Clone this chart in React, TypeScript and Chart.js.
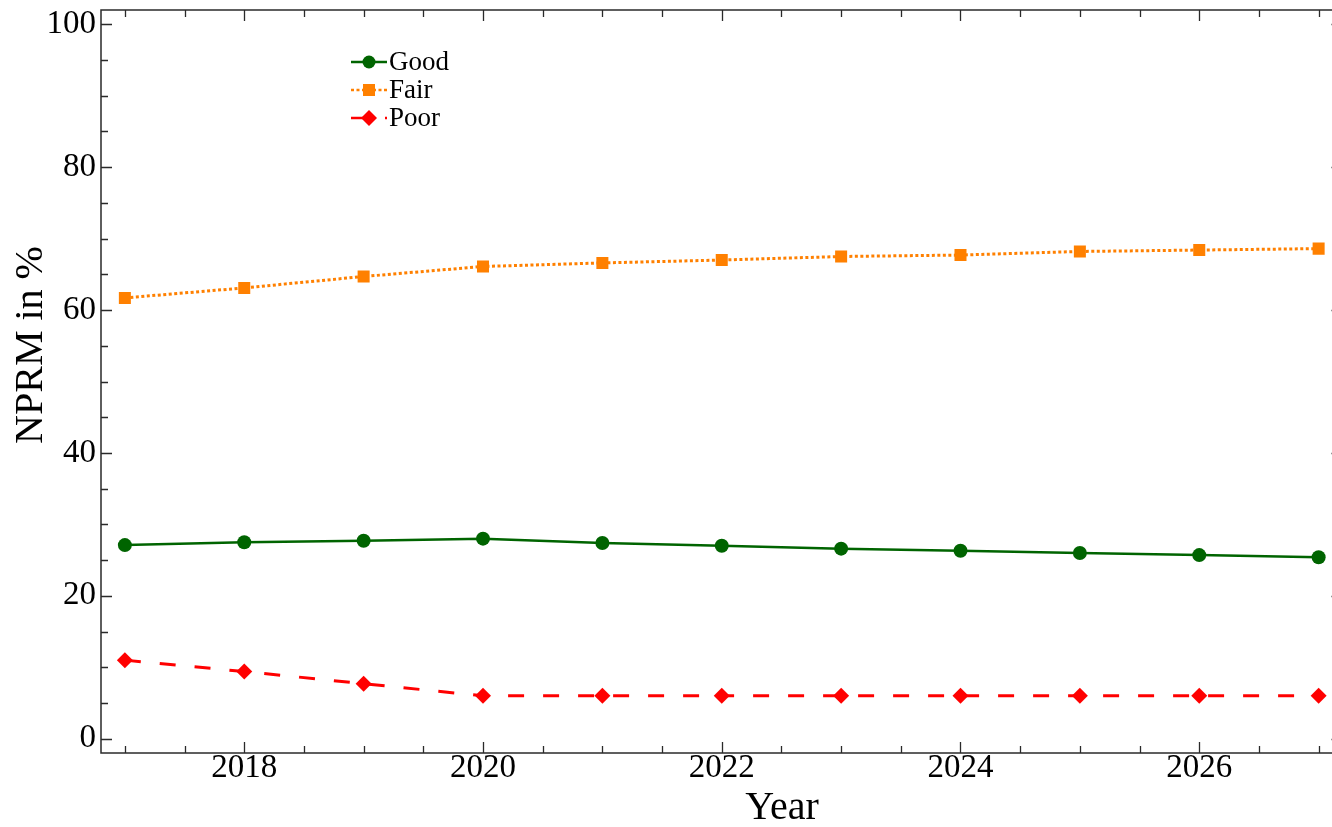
import React, { useEffect, useRef } from 'react';
import { Chart, registerables } from 'chart.js';

Chart.register(...registerables);

// ---- data ----
const years = [2017, 2018, 2019, 2020, 2021, 2022, 2023, 2024, 2025, 2026, 2027];
const goodValues = [27.1, 27.5, 27.7, 28.0, 27.4, 27.0, 26.6, 26.3, 26.0, 25.7, 25.4];
const fairValues = [61.7, 63.1, 64.7, 66.1, 66.6, 67.0, 67.5, 67.7, 68.2, 68.4, 68.6];
const poorValues = [11.0, 9.4, 7.7, 6.0, 6.0, 6.0, 6.0, 6.0, 6.0, 6.0, 6.0];
const seriesNames = ['Good', 'Fair', 'Poor'];
const xTickValues = [2018, 2020, 2022, 2024, 2026];
const yTickValues = [0, 20, 40, 60, 80, 100];
const xTitle = 'Year';
const yTitle = 'NPRM in %';

const SERIF = "'Liberation Serif', 'Times New Roman', serif";
const GREEN = '#006400';
const ORANGE = '#ff8000';
const RED = '#ff0000';

function drawMarker(ctx: CanvasRenderingContext2D, kind: string, x: number, y: number, r: number, color: string) {
  ctx.save();
  ctx.fillStyle = color;
  ctx.beginPath();
  if (kind === 'circle') {
    ctx.arc(x, y, r, 0, Math.PI * 2);
  } else if (kind === 'rect') {
    ctx.rect(x - r, y - r, 2 * r, 2 * r);
  } else {
    ctx.moveTo(x - r, y);
    ctx.lineTo(x, y - r);
    ctx.lineTo(x + r, y);
    ctx.lineTo(x, y + r);
    ctx.closePath();
  }
  ctx.fill();
  ctx.restore();
}

const framePlugin = {
  id: 'framePlugin',
  afterDraw(chart: any) {
    const { ctx, chartArea: a, scales } = chart;
    const x = scales.x;
    const y = scales.y;
    ctx.save();
    // frame
    ctx.strokeStyle = '#2a2a2a';
    ctx.lineWidth = 1.5;
    ctx.strokeRect(a.left, a.top, a.right - a.left, a.bottom - a.top);
    // inward ticks on all four sides
    ctx.lineWidth = 1.3;
    ctx.beginPath();
    for (let v = 2017; v <= 2027.001; v += 0.5) {
      const px = Math.round(x.getPixelForValue(v)) + 0.5;
      const len = xTickValues.includes(v) ? 11 : 7;
      ctx.moveTo(px, a.bottom);
      ctx.lineTo(px, a.bottom - len);
      ctx.moveTo(px, a.top);
      ctx.lineTo(px, a.top + len);
    }
    for (let v = 0; v <= 100.001; v += 5) {
      const py = Math.round(y.getPixelForValue(v)) + 0.5;
      const len = yTickValues.includes(v) ? 11 : 7;
      ctx.moveTo(a.left, py);
      ctx.lineTo(a.left + len, py);
      ctx.moveTo(a.right, py);
      ctx.lineTo(a.right - len, py);
    }
    ctx.stroke();

    // axis titles
    ctx.fillStyle = '#000';
    ctx.font = `40px ${SERIF}`;
    ctx.textAlign = 'center';
    ctx.textBaseline = 'alphabetic';
    ctx.fillText(xTitle, 782, 819);
    ctx.save();
    ctx.translate(42, 345);
    ctx.rotate(-Math.PI / 2);
    ctx.fillText(yTitle, 0, 0);
    ctx.restore();

    // legend
    const kinds = ['circle', 'rect', 'diamond'];
    const colors = [GREEN, ORANGE, RED];
    const dashes = [[], [3, 2.5], [12, 22]];
    const sizes = [6.5, 6, 8];
    const rows = [62, 90, 118];
    for (let i = 0; i < 3; i++) {
      const ly = rows[i];
      ctx.save();
      ctx.strokeStyle = colors[i];
      ctx.lineWidth = 2.5;
      ctx.setLineDash(dashes[i]);
      ctx.beginPath();
      ctx.moveTo(351, ly);
      ctx.lineTo(387, ly);
      ctx.stroke();
      ctx.restore();
      drawMarker(ctx, kinds[i], 369, ly, sizes[i], colors[i]);
      ctx.fillStyle = '#000';
      ctx.font = `27px ${SERIF}`;
      ctx.textAlign = 'left';
      ctx.textBaseline = 'middle';
      ctx.fillText(seriesNames[i], 389, ly + 1);
    }
    ctx.restore();
  },
};

export default function App() {
  const canvasRef = useRef<HTMLCanvasElement | null>(null);

  useEffect(() => {
    document.body.style.margin = '0';
    const canvas = canvasRef.current;
    if (!canvas) return;
    const toPoints = (vals: number[]) => years.map((yr, i) => ({ x: yr, y: vals[i] }));
    const tickFont = { family: SERIF, size: 33 };
    const chart = new Chart(canvas, {
      type: 'line',
      data: {
        datasets: [
          {
            label: seriesNames[0],
            data: toPoints(goodValues),
            borderColor: GREEN,
            backgroundColor: GREEN,
            borderWidth: 2.5,
            pointStyle: 'circle',
            pointRadius: 7,
            pointBorderWidth: 0,
            pointBackgroundColor: GREEN,
            tension: 0,
          },
          {
            label: seriesNames[1],
            data: toPoints(fairValues),
            borderColor: ORANGE,
            backgroundColor: ORANGE,
            borderWidth: 3,
            borderDash: [3, 2.5],
            pointStyle: 'rect',
            pointRadius: 8.5,
            pointBorderWidth: 0,
            pointBackgroundColor: ORANGE,
            tension: 0,
          },
          {
            label: seriesNames[2],
            data: toPoints(poorValues),
            borderColor: RED,
            backgroundColor: RED,
            borderWidth: 3,
            borderDash: [16, 19],
            pointStyle: 'rectRot',
            pointRadius: 8,
            pointBorderWidth: 0,
            pointBackgroundColor: RED,
            tension: 0,
          },
        ],
      },
      options: {
        responsive: false,
        animation: false,
        devicePixelRatio: 1,
        layout: { padding: { top: 10, right: 0, left: 0, bottom: 0 } },
        plugins: { legend: { display: false }, tooltip: { enabled: false }, title: { display: false } },
        scales: {
          x: {
            type: 'linear',
            min: 2016.8,
            max: 2027.2,
            grid: { display: false, drawTicks: false },
            border: { display: false },
            afterBuildTicks: (s: any) => {
              s.ticks = xTickValues.map((v) => ({ value: v }));
            },
            afterFit: (s: any) => {
              s.height = 74;
              s.paddingLeft = 0;
              s.paddingRight = 0;
            },
            ticks: {
              font: tickFont,
              color: '#000',
              padding: -4,
              maxRotation: 0,
              autoSkip: false,
              callback: (v: any) => String(v),
            },
          },
          y: {
            type: 'linear',
            min: -2,
            max: 102,
            grid: { display: false, drawTicks: false },
            border: { display: false },
            afterBuildTicks: (s: any) => {
              s.ticks = yTickValues.map((v) => ({ value: v }));
            },
            afterFit: (s: any) => {
              s.width = 101;
              s.paddingTop = 0;
              s.paddingBottom = 0;
            },
            ticks: {
              font: tickFont,
              color: '#000',
              padding: 5,
              autoSkip: false,
              callback: (v: any) => String(v),
            },
          },
        },
      },
      plugins: [framePlugin],
    } as any);
    return () => chart.destroy();
  }, []);

  return (
    <div style={{ width: 1332, height: 827, overflow: 'hidden', background: '#fff' }}>
      <canvas ref={canvasRef} width={1351} height={827} style={{ display: 'block' }} />
    </div>
  );
}
